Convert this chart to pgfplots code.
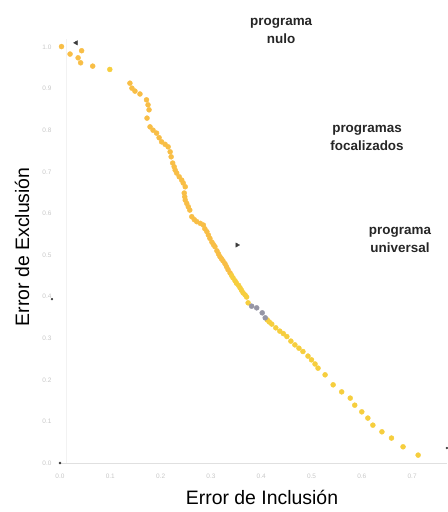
\documentclass[border=0pt]{standalone}
\usepackage{fontspec}
\setmainfont{Liberation Sans}
\usepackage{pgfplots}
\pgfplotsset{compat=1.18}
\definecolor{orng}{RGB}{248,190,70}
\definecolor{yell}{RGB}{246,206,62}
\definecolor{grpt}{RGB}{150,150,165}
\definecolor{dk}{RGB}{60,60,60}
\begin{document}
\begin{tikzpicture}[x=1bp,y=1bp]
\useasboundingbox (-55,-42) rectangle (393,470);
\begin{axis}[
  at={(0,0)}, anchor=south west,
  scale only axis, width=392bp, height=450bp,
  xmin=-0.00994, xmax=0.7694, ymin=-0.0168, ymax=1.0649,
  axis line style={draw=none}, major tick length=0pt,
  xtick={0,0.1,...,0.7}, ytick={0,0.1,...,1.0},
  xticklabels={0.0,0.1,0.2,0.3,0.4,0.5,0.6,0.7},
  yticklabels={0.0,0.1,0.2,0.3,0.4,0.5,0.6,0.7,0.8,0.9,1.0},
  tick label style={font=\fontsize{6.5}{7}\selectfont, text=black!22},
  /pgf/number format/assume math mode=true,
  clip=false,
]
\addplot[black!12, line width=0.8pt] coordinates {(0,0) (0.769,0)};
\addplot[black!5, line width=0.8pt] coordinates {(0.012,0) (0.012,1.02)};
\addplot[only marks, mark=*, mark size=2.5bp, color=orng] coordinates {
(0.003,1.001)(0.020,0.983)(0.036,0.974)(0.043,0.991)(0.041,0.962)(0.065,0.954)
(0.139,0.913)(0.143,0.901)(0.149,0.894)(0.159,0.887)(0.172,0.873)(0.175,0.861)(0.177,0.849)
(0.173,0.829)(0.179,0.808)(0.185,0.800)(0.192,0.793)(0.197,0.782)(0.202,0.772)(0.209,0.766)(0.215,0.760)
(0.219,0.748)(0.221,0.736)(0.224,0.721)(0.227,0.712)(0.229,0.704)(0.232,0.697)(0.237,0.688)
(0.242,0.680)(0.245,0.673)(0.249,0.664)(0.247,0.649)(0.248,0.640)(0.249,0.632)(0.252,0.624)(0.255,0.616)
(0.258,0.608)(0.262,0.592)(0.267,0.585)(0.272,0.580)(0.279,0.576)(0.285,0.572)(0.288,0.563)
(0.292,0.556)(0.295,0.548)(0.298,0.540)(0.302,0.531)(0.305,0.525)(0.308,0.520)(0.312,0.510)
(0.315,0.503)(0.318,0.496)(0.321,0.491)(0.324,0.486)(0.328,0.479)(0.331,0.472)(0.334,0.465)(0.338,0.457)
};
\addplot[only marks, mark=*, mark size=2.5bp, color=yell] coordinates {
(0.099,0.946)
(0.341,0.451)(0.344,0.445)(0.348,0.438)(0.351,0.432)(0.355,0.427)(0.358,0.421)(0.361,0.415)(0.364,0.409)
(0.368,0.404)(0.371,0.399)(0.374,0.385)(0.412,0.344)(0.416,0.339)(0.421,0.334)(0.429,0.325)
(0.437,0.317)(0.444,0.311)(0.451,0.304)(0.459,0.293)(0.467,0.284)(0.475,0.276)(0.483,0.268)
(0.493,0.257)(0.500,0.248)(0.507,0.238)(0.513,0.228)(0.527,0.212)(0.543,0.188)(0.560,0.171)
(0.577,0.156)(0.586,0.139)(0.600,0.123)(0.612,0.108)(0.622,0.091)(0.640,0.075)(0.659,0.060)
(0.682,0.039)(0.712,0.019)
};
\addplot[only marks, mark=*, mark size=2.5bp, color=grpt] coordinates {
(0.381,0.377)(0.391,0.373)(0.402,0.361)(0.408,0.349)
};
\addplot[only marks, mark=triangle*, mark size=2.5bp, color=dk, mark options={rotate=90}] coordinates {
(0.032,1.010)
};
\addplot[only marks, mark=triangle*, mark size=2.5bp, color=dk, mark options={rotate=-90}] coordinates {
(0.352,0.524)
};
\addplot[only marks, mark=*, mark size=1.0bp, color=dk] coordinates {
(0.0,0.0)(-0.016,0.394)(0.769,0.036)
};
\node[font=\fontsize{19.5}{22}\selectfont] at (rel axis cs:0.528,-0.06) {Error de Inclusión};
\node[font=\fontsize{19.5}{22}\selectfont, rotate=90] at (rel axis cs:-0.084,0.496) {Error de Exclusión};
\node[font=\fontsize{13.5}{17.5}\selectfont\bfseries, align=center, text=black!85] at (rel axis cs:0.577,0.976) {programa\\nulo};
\node[font=\fontsize{13.5}{17.5}\selectfont\bfseries, align=center, text=black!85] at (rel axis cs:0.796,0.738) {programas\\focalizados};
\node[font=\fontsize{13.5}{17.5}\selectfont\bfseries, align=center, text=black!85] at (rel axis cs:0.880,0.511) {programa\\universal};
\end{axis}
\end{tikzpicture}
\end{document}
